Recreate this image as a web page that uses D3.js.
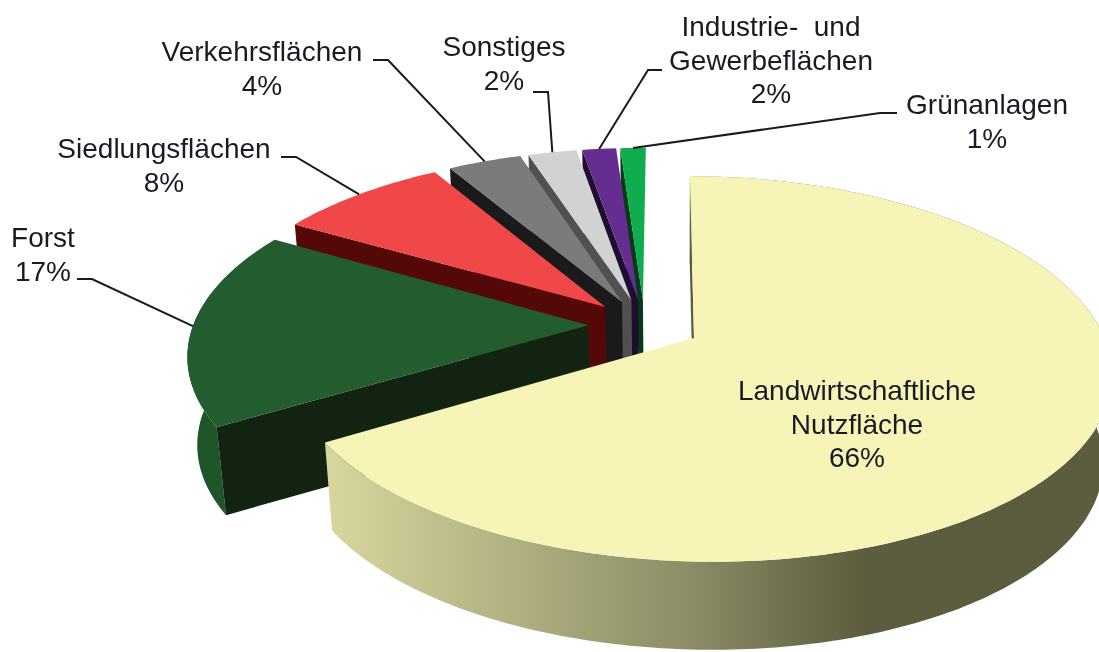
<!DOCTYPE html>
<html>
<head>
<meta charset="utf-8">
<script src="https://cdn.jsdelivr.net/npm/d3@7"></script>
<style>
    html, body { margin: 0; padding: 0; background: #fff; }
    svg { display: block; filter: blur(0.5px); }
    text { font-family: "Liberation Sans", Arial, sans-serif; font-size: 28px; fill: #1a1a24; white-space: pre; }
    .leader { fill: none; stroke: #1a1a1a; stroke-width: 2; }
</style>
</head>
<body>
<svg id="chart" width="1099" height="652"></svg>
<script>
// Chart data (labels show them rounded)
const categories = ["Landwirtschaftliche Nutzfläche", "Forst", "Siedlungsflächen", "Verkehrsflächen", "Sonstiges", "Industrie- und Gewerbeflächen", "Grünanlagen"];
const values = [66.1, 17.1, 8.2, 3.5, 2.3, 1.6, 1.2];

const topColors = ["#f7f4b8", "#235c2e", "#f04848", "#7b7b7b", "#d2d2d2", "#662d91", "#0fad4e"];
const wallColors = ["#5c5c3e", "#132311", "#540808", "#1a1a1a", "#505050", "#1d0e2e", "#063a1a"];

// Label text lines and where they sit, by category index
const labelLines = [
    ["Landwirtschaftliche", "Nutzfläche", "66%"],
    ["Forst", "17%"],
    ["Siedlungsflächen", "8%"],
    ["Verkehrsflächen", "4%"],
    ["Sonstiges", "2%"],
    ["Industrie-  und", "Gewerbeflächen", "2%"],
    ["Grünanlagen", "1%"]
];
const labelLayout = [
    { x: 857, y: 400 },
    { x: 43, y: 247 },
    { x: 164, y: 158 },
    { x: 262, y: 61 },
    { x: 504, y: 56 },
    { x: 771, y: 36 },
    { x: 987, y: 114 }
];
// Elbow of each leader line, the far end comes from the pie itself
const leaderLayout = [
    null,
    [[77, 279], [92, 279]],
    [[281, 157], [296, 157]],
    [[373, 60], [388, 60]],
    [[533, 92], [548, 92]],
    [[662, 70], [648, 70]],
    [[897, 113], [880, 113]]
];

const explode = 0.14;
const rotation = -0.009;
const svg = d3.select("#chart");

// Perspective of the pie plane, unit radius, origin on the apex of the big slice
function project(X, Y) {
    const w = 1 + 0.16 * Y - 0.0148 * X;
    return [(694 + 396 * X + 110 * Y) / w, (338 - 133.7 * Y) / w];
}

// Same point on the underside of the pie
function lower(p) {
    return [p[0] + (680 - p[0]) * 0.02, p[1] + 88];
}

const slices = d3.pie().sort(null).startAngle(rotation).endAngle(2 * Math.PI + rotation)(values);

// World position of the pie centre, so that the big slice apex lands on the origin
const firstMid = (slices[0].startAngle + slices[0].endAngle) / 2;
const center = [-explode * Math.sin(firstMid), -explode * Math.cos(firstMid)];

slices.forEach(d => {
    const mid = (d.startAngle + d.endAngle) / 2;
    d.ax = center[0] + explode * Math.sin(mid);
    d.ay = center[1] + explode * Math.cos(mid);
    d.mid = mid;
});

function rimPoint(d, angle) {
    return project(d.ax + Math.sin(angle), d.ay + Math.cos(angle));
}

function rimPoints(d) {
    const n = Math.max(4, Math.ceil((d.endAngle - d.startAngle) * 60));
    return d3.range(n + 1).map(i => rimPoint(d, d.startAngle + (d.endAngle - d.startAngle) * i / n));
}

const line = d3.line();
const closed = pts => line(pts) + "Z";

// Rim shading of the big slice
const grad = svg.append("defs").append("linearGradient")
    .attr("id", "rimShade")
    .attr("gradientUnits", "userSpaceOnUse")
    .attr("x1", 330).attr("x2", 1099).attr("y1", 0).attr("y2", 0);
grad.selectAll("stop")
    .data([[0, "#d8d69e"], [0.2, "#b6b686"], [0.45, "#8f8f68"], [0.7, "#5c5c3e"], [1, "#5c5c3e"]])
    .enter().append("stop")
    .attr("offset", d => d[0])
    .attr("stop-color", d => d[1]);

// Back slices first, the big one goes on top
const drawOrder = slices.slice().reverse();
const groups = svg.selectAll("g.slice")
    .data(drawOrder)
    .enter().append("g")
    .attr("class", "slice");

groups.each(function (d) {
    const g = d3.select(this);
    const apex = project(d.ax, d.ay);
    const rim = rimPoints(d);

    // outer wall, only the two large slices show it
    if (d.index < 2) {
        g.append("path")
            .attr("d", closed(rim.concat(rim.map(lower).reverse())))
            .attr("fill", d.index === 0 ? "url(#rimShade)" : "#1f5629");
    }

    // cut wall on the start side
    const wall = rimPoint(d, d.startAngle);
    g.append("path")
        .attr("d", closed([apex, wall, lower(wall), lower(apex)]))
        .attr("fill", wallColors[d.index]);

    // top face
    g.append("path")
        .attr("d", closed([apex].concat(rim)))
        .attr("fill", topColors[d.index]);
});

// Leader lines
svg.selectAll("path.leader")
    .data(slices.filter(d => leaderLayout[d.index]))
    .enter().append("path")
    .attr("class", "leader")
    .attr("d", d => line(leaderLayout[d.index].concat([rimPoint(d, d.mid)])));

// Labels
const labels = svg.selectAll("text.label")
    .data(categories)
    .enter().append("text")
    .attr("class", "label")
    .attr("text-anchor", "middle")
    .attr("aria-label", d => d);

labels.each(function (d, i) {
    d3.select(this).selectAll("tspan")
        .data(labelLines[i])
        .enter().append("tspan")
        .attr("x", labelLayout[i].x)
        .attr("y", (t, j) => labelLayout[i].y + j * 33.5)
        .text(t => t);
});
</script>
</body>
</html>
